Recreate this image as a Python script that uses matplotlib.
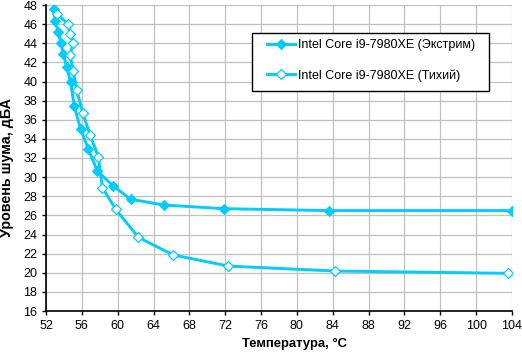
import matplotlib
matplotlib.use("Agg")
import matplotlib.pyplot as plt
from matplotlib.patches import Rectangle

plt.rcParams['font.family'] = ['Liberation Sans', 'DejaVu Sans']

# Data
extreme_t = [52.9, 53.0, 53.37, 53.64, 53.93, 54.3, 54.75, 55.16, 55.87, 56.72, 57.73, 59.51, 61.45, 65.2, 71.87, 83.6, 103.97]
extreme_n = [47.55, 46.36, 45.2, 44.06, 42.88, 41.55, 39.9, 37.4, 35.0, 32.94, 30.64, 29.07, 27.68, 27.08, 26.7, 26.5, 26.5]

quiet_t = [53.2, 54.46, 54.68, 55.05, 54.68, 55.05, 55.42, 56.1, 56.91, 57.84, 58.29, 59.78, 62.3, 66.2, 72.35, 84.25, 103.5]
quiet_n = [47.1, 46.0, 44.97, 44.06, 42.8, 41.1, 39.1, 36.74, 34.41, 32.14, 28.9, 26.63, 23.71, 21.86, 20.7, 20.18, 19.94]

series_labels = ["Intel Core i9-7980XE (Экстрим)", "Intel Core i9-7980XE (Тихий)"]
x_ticks = list(range(52, 105, 4))
y_ticks = list(range(16, 49, 2))
x_label = "Температура, °С"
y_label = "Уровень шума, дБА"

color = '#00CCFF'

fig = plt.figure(figsize=(5.22, 3.53), dpi=100)
ax = fig.add_axes([46/522, 1-311/353, 466/522, 306/353])

ax.plot(extreme_t, extreme_n, color=color, lw=2.1, marker='D', ms=5.6,
        mfc=color, mec=color, mew=0.8, label=series_labels[0], zorder=3)
ax.plot(quiet_t, quiet_n, color=color, lw=2.1, marker='D', ms=5.4,
        mfc='white', mec=color, mew=0.9, label=series_labels[1], zorder=3)

ax.set_xlim(52, 104)
ax.set_ylim(16, 48)
ax.set_xticks(x_ticks)
ax.set_yticks(y_ticks)
ax.grid(True, color='#C0C0C0', lw=0.9)
ax.set_axisbelow(True)
for s in ['top', 'right']:
    ax.spines[s].set_visible(False)
for s in ['left', 'bottom']:
    ax.spines[s].set_color('black')
    ax.spines[s].set_linewidth(1.2)
ax.tick_params(axis='both', direction='out', length=3.2, width=1, labelsize=9, colors='black', pad=3)

ax.set_xlabel(x_label, fontsize=9.4, fontweight='bold')
ax.xaxis.set_label_coords(0.534, -0.089)
ax.set_ylabel(y_label, fontsize=10.3, fontweight='bold')
ax.yaxis.set_label_coords(-0.068, 0.47)

# legend frame
ax.add_patch(Rectangle((0.442, 0.719), 0.951 - 0.442, 0.908 - 0.719,
                       transform=ax.transAxes, facecolor='white',
                       edgecolor='black', lw=1.0, zorder=4))
leg = ax.legend(loc='upper left', bbox_to_anchor=(0.474, 0.889), fontsize=9,
                frameon=False, handlelength=2.24, handletextpad=0.25,
                labelspacing=1.45, borderpad=0, borderaxespad=0)
leg.set_zorder(5)

fig.savefig('out.png', dpi=100)
